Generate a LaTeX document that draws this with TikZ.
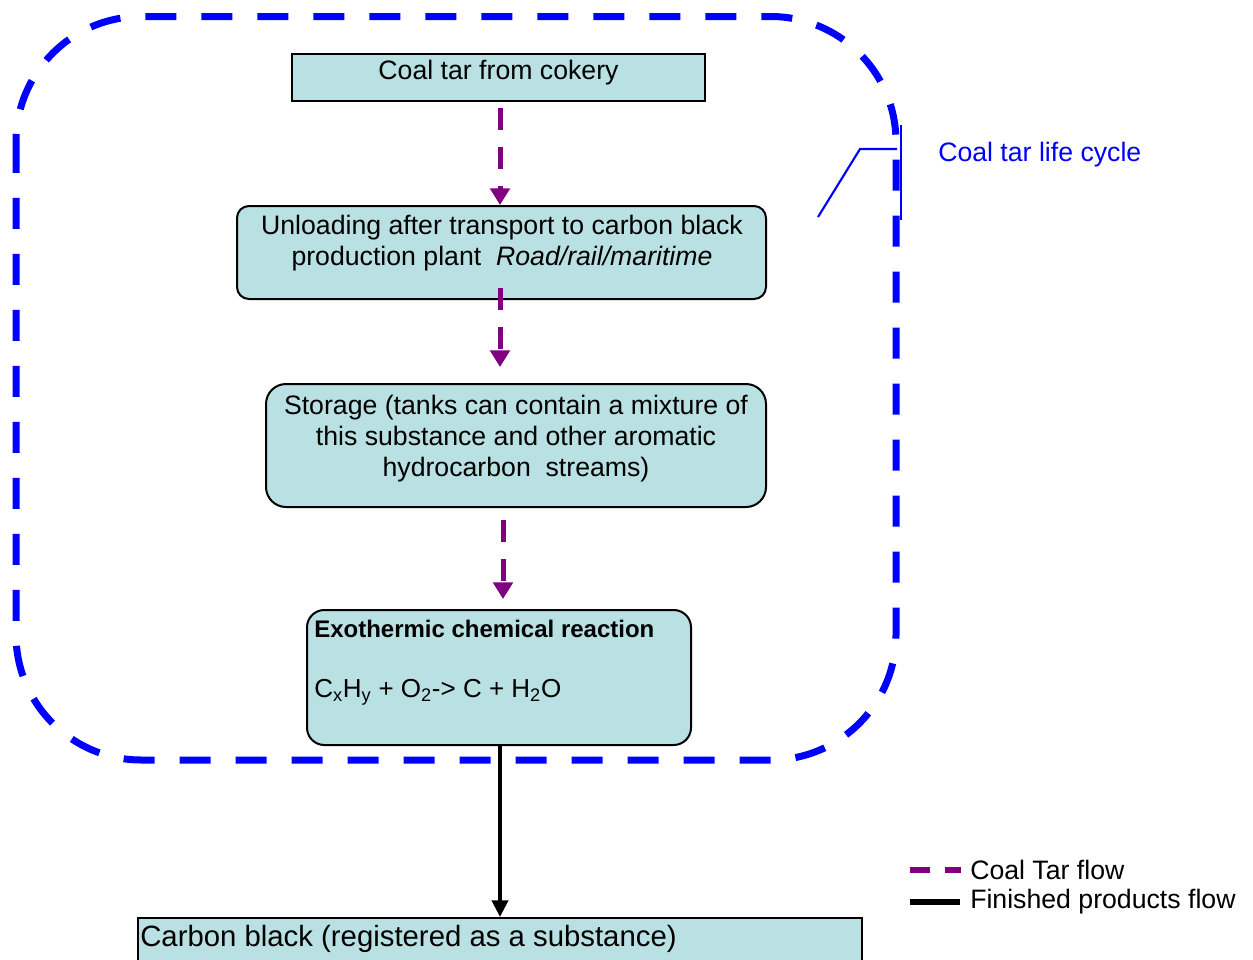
\documentclass[tikz,border=0pt]{standalone}
\usepackage{fontspec}
\setmainfont{Liberation Sans}
\usetikzlibrary{arrows.meta,calc}
\definecolor{boxfill}{RGB}{185,224,226}
\definecolor{tarpurple}{RGB}{128,0,128}
\definecolor{cycleblue}{RGB}{0,0,255}

\begin{document}
\begin{tikzpicture}[x=0.75pt,y=-0.75pt,
  box/.style={draw=black, line width=1.5pt, fill=boxfill, inner sep=0pt},
  txt/.style={font=\fontsize{20}{23}\selectfont, inner sep=0pt, align=center},
  tarflow/.style={draw=tarpurple, line width=3.75pt, dash pattern=on 16.5pt off 12.75pt,
    -{Triangle[width=14.5pt,length=12.5pt]}},
  prodflow/.style={draw=black, line width=3pt, -{Triangle[width=12pt,length=12.5pt]}},
  cycleline/.style={draw=cycleblue, line width=5.25pt, dash pattern=on 23.25pt off 18.75pt,
    rounded corners=94pt},
  callout/.style={draw=cycleblue, line width=1.6pt}
]
\clip (0,0) rectangle (1253,960);
\fill[white] (0,0) rectangle (1253,960);

% boundary of the coal tar life cycle
\draw[cycleline] (16,16.5) rectangle (896,760);

% process boxes
\node[box, minimum width=309.75pt, minimum height=35.25pt] (b1) at (498.5,77.5) {};
\node[box, rounded corners=9pt, minimum width=396.75pt, minimum height=69.75pt] (b2) at (501.5,252.5) {};
\node[box, rounded corners=15pt, minimum width=375pt, minimum height=92.25pt] (b3) at (516,445.5) {};
\node[box, rounded corners=13pt, minimum width=288pt, minimum height=101.25pt] (b4) at (499,677.5) {};
\node[box, minimum width=543pt, minimum height=54pt] (b5) at (500,954) {};

% box texts
\node[txt, anchor=base] (t1) at (498.5,79.5) {Coal tar from cokery};
\node[txt] (t2) at (502,243) {Unloading after transport to carbon black\\production plant\ \ \textit{Road/rail/maritime}};
\node[txt] (t3) at (516,438.5) {Storage (tanks can contain a mixture of\\this substance and other aromatic\\hydrocarbon\ \ streams)};
\node[txt, anchor=base west, font=\fontsize{18}{21}\selectfont\bfseries] (t4) at (314,637) {Exothermic chemical reaction};
\node[txt, anchor=base west, font=\fontsize{19.5}{23}\selectfont] (t4f) at (314,697) {C\textsubscript{x}H\textsubscript{y} + O\textsubscript{2}-> C + H\textsubscript{2}O};
\node[txt, anchor=base west, font=\fontsize{22}{25}\selectfont] (t5) at (140,946) {Carbon black (registered as a substance)};

% flows
\draw[tarflow] ($(b1.south)+(1.5,6)$) -- ($(b2.north)+(-1.5,0)$);
\draw[tarflow] ($(b2.south)+(-1.5,-12)$) -- ($(b3.north)+(-16,-16)$);
\draw[tarflow] ($(b3.south)+(-13,12)$) -- ($(b4.north)+(4,-10)$);
\draw[prodflow] ($(b4.south)+(1,0)$) -- (b5.north);

% callout
\coordinate (cTail) at (818,217);
\coordinate (cElbow) at (860,149);
\coordinate (cJoin) at (897,149);
\coordinate (barTop) at (901,125);
\coordinate (barBot) at (901,220);
\draw[callout] (cTail) -- (cElbow) -- (cJoin);
\draw[callout] (barTop) -- (barBot);
\node[txt, anchor=base west, text=cycleblue] (life) at (938,161) {Coal tar life cycle};

% legend
\coordinate (lgA) at (910,870);
\coordinate (lgB) at (961,870);
\coordinate (lgC) at (910,902);
\coordinate (lgD) at (960,902);
\draw[draw=tarpurple, line width=4pt, dash pattern=on 15pt off 11.25pt] (lgA) -- (lgB);
\draw[draw=black, line width=4pt] (lgC) -- (lgD);
\node[txt, anchor=base west] (lg1) at (970,879) {Coal Tar flow};
\node[txt, anchor=base west] (lg2) at (970,908) {Finished products flow};
\end{tikzpicture}
\end{document}
